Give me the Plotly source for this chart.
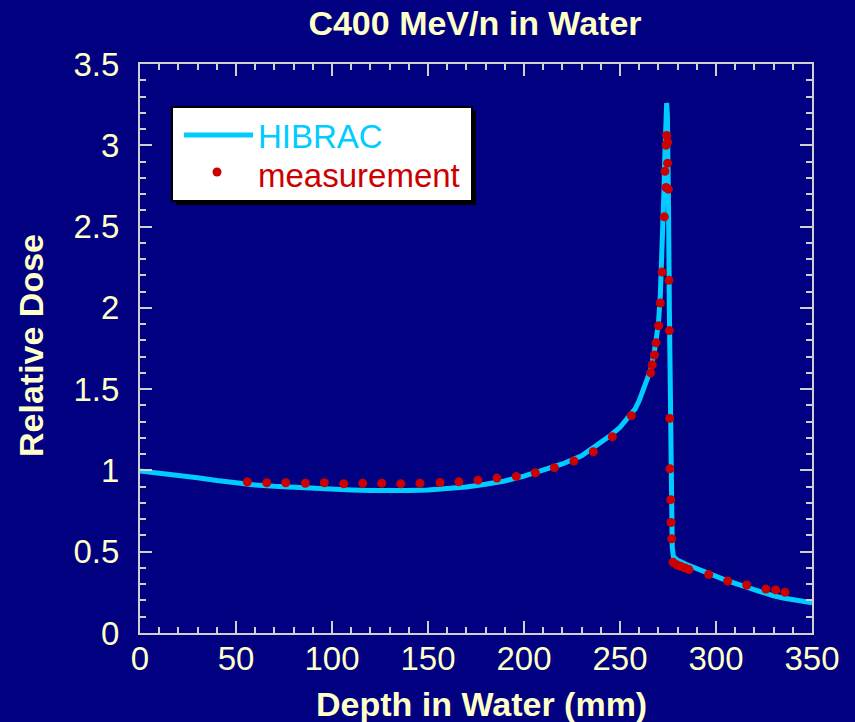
import plotly.graph_objects as go

# ---- data ----
hibrac_depth = [0, 10, 20, 30, 40, 50, 60, 70, 80, 90, 100, 110, 120, 130, 140, 150,
                160, 170, 180, 190, 200, 210, 220, 230, 240, 245, 250, 255, 258, 260,
                262, 264, 266, 268, 269, 270, 271, 271.9, 272.4, 272.9, 273.3, 273.6,
                274.0, 274.3, 274.7, 275.0, 275.3, 275.7, 276.0, 276.3, 276.7, 277.2,
                277.8, 279, 280, 285, 290, 295, 300, 305, 310, 315, 320, 325, 330, 335,
                340, 345, 350]
hibrac_dose = [0.997, 0.985, 0.970, 0.955, 0.938, 0.923, 0.911, 0.902, 0.895, 0.889,
               0.884, 0.880, 0.877, 0.875, 0.876, 0.879, 0.888, 0.898, 0.915, 0.935,
               0.965, 1.000, 1.040, 1.090, 1.170, 1.215, 1.265, 1.330, 1.380, 1.430,
               1.490, 1.555, 1.620, 1.740, 1.820, 1.900, 2.080, 2.310, 2.500, 2.720,
               2.920, 3.120, 3.240, 3.260, 3.180, 3.000, 2.600, 2.000, 1.500, 1.100,
               0.750, 0.530, 0.470, 0.455, 0.447, 0.420, 0.395, 0.367, 0.345, 0.325,
               0.305, 0.285, 0.265, 0.245, 0.228, 0.215, 0.203, 0.194, 0.186]

meas_depth = [55.9, 66.0, 75.9, 86.1, 96.0, 106.1, 116.0, 125.9, 135.8, 145.8,
              156.3, 166.1, 176.0, 185.9, 196.0, 205.9, 215.8, 226.0, 236.1, 246.0,
              255.9, 266.0, 266.8, 267.9, 268.75, 270.1, 271.0, 271.9, 273.1, 274.0,
              275.2, 273.4, 274.8, 274.0, 274.8, 274.3, 275.5, 275.7, 275.9, 276.0,
              276.4, 276.6, 276.9, 277.6, 279.5, 281.6, 283.9, 285.9, 296.2, 306.1,
              316.0, 326.0, 331.1, 335.9]
meas_dose = [0.930, 0.924, 0.924, 0.921, 0.924, 0.918, 0.921, 0.921, 0.918, 0.921,
             0.925, 0.930, 0.940, 0.953, 0.963, 0.986, 1.017, 1.058, 1.115, 1.207,
             1.336, 1.600, 1.650, 1.710, 1.785, 1.890, 2.030, 2.220, 2.560, 2.740,
             2.730, 2.840, 2.890, 3.000, 3.020, 3.060, 2.170, 1.860, 1.320, 1.010,
             0.820, 0.680, 0.580, 0.435, 0.420, 0.410, 0.400, 0.390, 0.360, 0.320,
             0.295, 0.270, 0.265, 0.250]

x_ticks = [0, 50, 100, 150, 200, 250, 300, 350]
y_ticks = [0, 0.5, 1, 1.5, 2, 2.5, 3, 3.5]
y_tick_text = ["0", "0.5", "1", "1.5", "2", "2.5", "3", "3.5"]

# ---- style ----
BG = "#000080"
TXT = "#FFFFC8"
CYAN = "#00CCFF"
RED = "#CC0000"
AX = "#D0D0D0"
FONT = "Liberation Sans, Arial, sans-serif"

W, H = 855, 722
L, R, T, B = 140, 43, 64, 89
PW, PH = W - L - R, H - T - B


def px(xp):
    return (xp - L) / PW


def py(yp):
    return (H - B - yp) / PH


fig = go.Figure()
fig.add_trace(go.Scatter(x=hibrac_depth, y=hibrac_dose, mode="lines", name="HIBRAC",
                         line=dict(color=CYAN, width=5), showlegend=False))
fig.add_trace(go.Scatter(x=meas_depth, y=meas_dose, mode="markers", name="measurement",
                         marker=dict(color=RED, size=9, line=dict(width=0)),
                         showlegend=False))

axis_common = dict(
    showgrid=False, zeroline=False, showline=True, linecolor=AX, linewidth=2,
    mirror="allticks", ticks="inside", ticklen=12, tickwidth=1.5, tickcolor=AX,
    tickfont=dict(family=FONT, size=33, color=TXT),
    automargin=False,
)

fig.update_xaxes(range=[0, 350], tickvals=x_ticks,
                 minor=dict(dtick=10, ticks="inside", ticklen=6, tickwidth=1.5, tickcolor=AX),
                 ticklabelstandoff=-5, **axis_common)
fig.update_yaxes(range=[0, 3.5], tickvals=y_ticks, ticktext=y_tick_text,
                 minor=dict(dtick=0.1, ticks="inside", ticklen=6, tickwidth=1.5, tickcolor=AX),
                 ticklabelstandoff=12, **axis_common)

# legend box (drawn manually to match the original look)
shapes = [
    dict(type="rect", xref="paper", yref="paper", x0=px(176), x1=px(476), y0=py(205), y1=py(111),
         fillcolor="black", line=dict(width=0), layer="above"),
    dict(type="rect", xref="paper", yref="paper", x0=px(172), x1=px(472), y0=py(201), y1=py(107),
         fillcolor="white", line=dict(color="black", width=2), layer="above"),
    dict(type="line", xref="paper", yref="paper", x0=px(184), x1=px(253), y0=py(135), y1=py(135),
         line=dict(color=CYAN, width=5), layer="above"),
    dict(type="circle", xref="paper", yref="paper", x0=px(212.5), x1=px(221.5), y0=py(176.5), y1=py(167.5),
         fillcolor=RED, line=dict(width=0), layer="above"),
]
annotations = [
    dict(text="HIBRAC", xref="paper", yref="paper", x=px(256), y=py(137), xanchor="left",
         yanchor="middle", showarrow=False, font=dict(family=FONT, size=33, color=CYAN)),
    dict(text="measurement", xref="paper", yref="paper", x=px(256), y=py(175.5), xanchor="left",
         yanchor="middle", showarrow=False, font=dict(family=FONT, size=33, color=RED)),
    # axis titles
    dict(text="<b>Depth in Water (mm)</b>", xref="paper", yref="paper", x=px(481), y=py(704),
         xanchor="center", yanchor="middle", showarrow=False,
         font=dict(family=FONT, size=34, color=TXT)),
    dict(text="<b>Relative Dose</b>", xref="paper", yref="paper", x=px(31), y=py(346),
         xanchor="center", yanchor="middle", textangle=-90, showarrow=False,
         font=dict(family=FONT, size=34, color=TXT)),
]

fig.update_layout(
    width=W, height=H, margin=dict(l=L, r=R, t=T, b=B),
    paper_bgcolor=BG, plot_bgcolor=BG,
    title=dict(text="<b>C400 MeV/n in Water</b>", x=px(475), xref="paper", xanchor="center",
               y=1 - 23 / H, yref="container", yanchor="middle",
               font=dict(family=FONT, size=34, color=TXT)),
    shapes=shapes, annotations=annotations, showlegend=False,
)

fig.write_html("out.html")
